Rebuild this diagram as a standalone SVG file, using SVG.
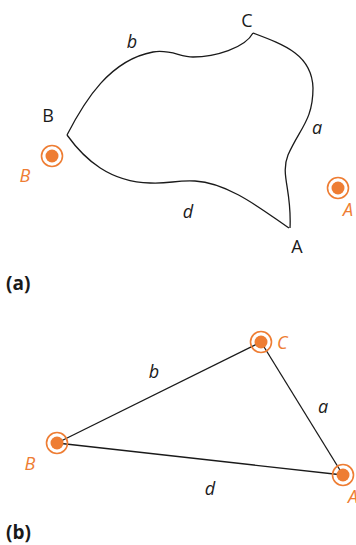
<svg xmlns="http://www.w3.org/2000/svg" width="356" height="545" viewBox="0 0 356 545">
<style>
.edge{fill:none;stroke:#1a1a1a;stroke-width:1.3}
.lbl{font-family:"Open Sans","Liberation Sans",sans-serif;font-size:18px;fill:#1a1a1a}
.it{font-style:italic}
.or{fill:#ee7d33}
.ring{fill:none;stroke:#ee7d33;stroke-width:1.6}
.dot{fill:#ee7d33}
.cap{font-family:"Open Sans","Liberation Sans",sans-serif;font-size:19px;font-weight:bold;fill:#1a1a1a}
</style>
<rect width="356" height="545" fill="#fff"/>
<g id="connectors">
<path class="edge" d="M67,135 C85,100 110,60 153,52 C170,49 180,57 193,57 C215,57 245,48 253,33"/>
<path class="edge" d="M253,33 C285,45 312,55 313,88 C313,120 300,128 288,155 C280,175 292,190 290,228"/>
<path class="edge" d="M67,135 C85,160 110,182 150,183 C170,184 175,180 195,181 C230,183 265,212 289,228"/>
<line class="edge" x1="57" y1="443" x2="261" y2="342"/>
<line class="edge" x1="261" y1="342" x2="343" y2="475"/>
<line class="edge" x1="57" y1="443" x2="343" y2="475"/>
</g>
<g id="label-a-top">
<text class="lbl" x="247" y="27" text-anchor="middle">C</text>
<text class="lbl" x="48" y="122" text-anchor="middle">B</text>
<text class="lbl" x="297" y="253" text-anchor="middle">A</text>
<text class="lbl it" x="132" y="48" text-anchor="middle">b</text>
<text class="lbl it" x="317" y="134" text-anchor="middle">a</text>
<text class="lbl it" x="188" y="218" text-anchor="middle">d</text>
</g>
<g id="nodeB-a">
<circle class="ring" cx="52" cy="156" r="10.5"/>
<circle class="dot" cx="52" cy="156" r="6.5"/>
<text class="lbl it or" x="25" y="182" text-anchor="middle">B</text>
</g>
<g id="nodeA-a">
<circle class="ring" cx="338" cy="188" r="10.5"/>
<circle class="dot" cx="338" cy="188" r="6.5"/>
<text class="lbl it or" x="343" y="216">A</text>
</g>
<text class="cap" x="6" y="290">(a)</text>
<g id="nodeC-b">
<circle class="ring" cx="261" cy="342" r="10.5"/>
<circle class="dot" cx="261" cy="342" r="6.5"/>
<text class="lbl it or" x="277" y="349">C</text>
</g>
<g id="nodeB-b">
<circle class="ring" cx="57" cy="443" r="10.5"/>
<circle class="dot" cx="57" cy="443" r="6.5"/>
<text class="lbl it or" x="30" y="470" text-anchor="middle">B</text>
</g>
<g id="nodeA-b">
<circle class="ring" cx="343" cy="475" r="10.5"/>
<circle class="dot" cx="343" cy="475" r="6.5"/>
<text class="lbl it or" x="348" y="503">A</text>
</g>
<g id="labels-b">
<text class="lbl it" x="154" y="378" text-anchor="middle">b</text>
<text class="lbl it" x="323" y="413" text-anchor="middle">a</text>
<text class="lbl it" x="210" y="495" text-anchor="middle">d</text>
</g>
<text class="cap" x="6" y="539">(b)</text>
</svg>
